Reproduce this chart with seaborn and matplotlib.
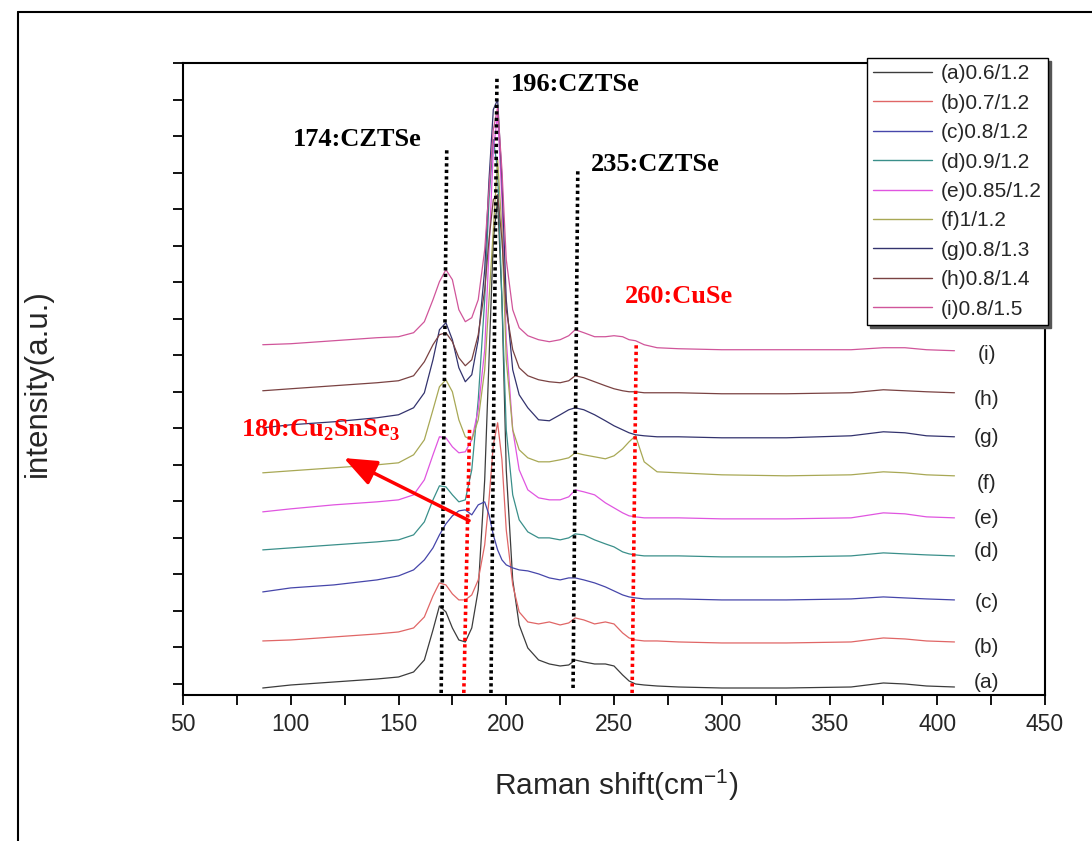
import numpy as np
import pandas as pd
import matplotlib
matplotlib.use('Agg')
import matplotlib.pyplot as plt
import seaborn as sns
from matplotlib.lines import Line2D

# ---------------- data ----------------
shift = [87, 100, 120, 140, 150, 157, 162, 166, 169, 172, 175, 178, 181, 184, 187,
         190, 192, 194, 196, 198, 200, 203, 206, 210, 215, 220, 225, 229, 232, 236,
         241, 246, 250, 254, 257, 260, 264, 270, 280, 300, 330, 360, 375, 385, 395, 408]

s_a = [120, 150, 180, 210, 230, 280, 400, 700, 940, 880, 720, 600, 580, 720, 1100,
       2200, 3400, 4600, 5000, 4000, 2300, 1200, 750, 520, 400, 360, 340, 350, 400, 380,
       360, 360, 340, 250, 190, 160, 150, 140, 130, 120, 120, 130, 170, 160, 140, 130]
s_b = [590, 600, 630, 660, 680, 720, 830, 1040, 1170, 1150, 1060, 1000, 1000, 1050, 1200,
       1550, 2000, 2550, 2770, 2400, 1700, 1150, 880, 780, 760, 780, 750, 770, 820, 800,
       760, 780, 760, 670, 620, 600, 590, 590, 580, 570, 570, 580, 620, 610, 590, 580]
s_c = [1080, 1120, 1150, 1200, 1240, 1300, 1400, 1520, 1650, 1760, 1840, 1890, 1900, 1850, 1950,
       1980, 1850, 1650, 1500, 1400, 1350, 1320, 1300, 1290, 1260, 1220, 1200, 1220, 1220, 1200,
       1170, 1130, 1090, 1050, 1030, 1020, 1010, 1010, 1010, 1000, 1000, 1010, 1030, 1020, 1010, 1000]
s_d = [1500, 1520, 1550, 1580, 1600, 1650, 1780, 2000, 2140, 2130, 2050, 1980, 2000, 2300, 3000,
       4000, 5000, 5600, 5300, 4000, 2700, 2050, 1800, 1680, 1620, 1620, 1600, 1620, 1660, 1650,
       1600, 1560, 1530, 1480, 1460, 1450, 1440, 1440, 1440, 1430, 1430, 1440, 1470, 1460, 1450, 1440]
s_e = [1880, 1910, 1950, 1980, 2000, 2050, 2200, 2450, 2630, 2620, 2530, 2470, 2480, 2600, 2900,
       3500, 4500, 5500, 5850, 5000, 3600, 2700, 2300, 2100, 2020, 2000, 2000, 2030, 2100, 2080,
       2050, 1970, 1920, 1870, 1840, 1830, 1820, 1820, 1820, 1810, 1810, 1820, 1870, 1860, 1830, 1820]
s_f = [2270, 2290, 2320, 2350, 2370, 2450, 2600, 2900, 3130, 3200, 3080, 2800, 2630, 2600, 2800,
       3300, 4000, 4700, 5400, 4700, 3400, 2700, 2500, 2420, 2380, 2380, 2400, 2420, 2470, 2450,
       2430, 2410, 2440, 2510, 2580, 2640, 2380, 2280, 2270, 2250, 2240, 2250, 2280, 2270, 2250, 2240]
s_g = [2720, 2750, 2780, 2820, 2850, 2920, 3070, 3400, 3700, 3770, 3600, 3320, 3180, 3250, 3600,
       4300, 5200, 5900, 6000, 5200, 4000, 3300, 3050, 2920, 2800, 2790, 2850, 2900, 2920, 2900,
       2850, 2790, 2740, 2700, 2670, 2650, 2640, 2630, 2630, 2620, 2620, 2640, 2680, 2670, 2640, 2630]
s_h = [3090, 3110, 3140, 3170, 3190, 3240, 3380, 3550, 3650, 3670, 3580, 3420, 3340, 3400, 3650,
       4100, 4600, 5000, 5050, 4600, 3900, 3500, 3320, 3240, 3200, 3180, 3170, 3190, 3240, 3220,
       3180, 3140, 3110, 3090, 3080, 3080, 3070, 3070, 3070, 3060, 3060, 3070, 3100, 3090, 3080, 3070]
s_i = [3550, 3560, 3590, 3620, 3630, 3670, 3780, 4000, 4180, 4300, 4200, 3900, 3780, 3820, 4000,
       4500, 5100, 5700, 5920, 5300, 4400, 3900, 3720, 3640, 3600, 3580, 3600, 3640, 3700, 3670,
       3630, 3630, 3640, 3630, 3600, 3590, 3550, 3520, 3510, 3500, 3500, 3500, 3520, 3520, 3500, 3490]

labels = ['(a)0.6/1.2', '(b)0.7/1.2', '(c)0.8/1.2', '(d)0.9/1.2', '(e)0.85/1.2',
          '(f)1/1.2', '(g)0.8/1.3', '(h)0.8/1.4', '(i)0.8/1.5']
series = [s_a, s_b, s_c, s_d, s_e, s_f, s_g, s_h, s_i]
colors = ['#3c3c3c', '#e06666', '#4646aa', '#3a8f8a', '#e055e0',
          '#a8a855', '#33336e', '#7a4242', '#d0559a']
tags = ['(a)', '(b)', '(c)', '(d)', '(e)', '(f)', '(g)', '(h)', '(i)']
tag_y = [170, 520, 970, 1480, 1810, 2160, 2620, 3000, 3450]

x_ticks = [50, 100, 150, 200, 250, 300, 350, 400, 450]

# ---------------- style ----------------
sns.set_style('ticks')
plt.rcParams['font.family'] = ['Liberation Sans', 'DejaVu Sans']
plt.rcParams['mathtext.fontset'] = 'custom'
plt.rcParams['mathtext.bf'] = 'Liberation Serif:bold'
plt.rcParams['mathtext.sf'] = 'Liberation Sans'
plt.rcParams['mathtext.rm'] = 'Liberation Sans'

fig = plt.figure(figsize=(10.92, 8.41), dpi=100)
ax = fig.add_axes([183 / 1092, 1 - 695 / 841, (1045 - 183) / 1092, (695 - 63) / 841])

rows = []
for lab, ys in zip(labels, series):
    for x, y in zip(shift, ys):
        rows.append((x, y, lab))
df = pd.DataFrame(rows, columns=['shift', 'intensity', 'sample'])

sns.lineplot(data=df, x='shift', y='intensity', hue='sample', hue_order=labels,
             palette=dict(zip(labels, colors)), linewidth=0.9, estimator=None,
             sort=False, ax=ax, legend=False)

ax.set_xlim(50, 450)
ax.set_ylim(50, 6365)
ax.set_xticks(x_ticks)
ax.set_xticks([75 + 50 * k for k in range(8)], minor=True)
ax.set_yticks([160 + 365 * k for k in range(18)])
ax.set_yticklabels([])
ax.tick_params(axis='both', which='both', direction='out', length=7, width=1.3,
               labelsize=16.5, color='black')
ax.tick_params(axis='x', pad=6)
for sp in ax.spines.values():
    sp.set_linewidth(1.5)
    sp.set_color('black')

ax.set_xlabel(r'Raman shift(cm$^{\mathsf{-1}}$)', fontsize=21.5)
ax.xaxis.set_label_coords(0.503, -0.142)
ax.xaxis.label.set_va('center')
ax.set_ylabel('intensity(a.u.)', fontsize=22.5)
ax.yaxis.set_label_coords(-0.168, 0.494)
ax.yaxis.label.set_va('center')

# sample tags on the right
for t, y in zip(tags, tag_y):
    ax.text(423, y, t, ha='center', va='center', fontsize=15, family='Liberation Sans')

# dotted guide lines
dot = (0, (0.9, 0.9))
ax.plot([169.8, 172.4], [70, 5520], color='black', lw=2.6, linestyle=dot)
ax.plot([192.9, 195.7], [70, 6240], color='black', lw=2.6, linestyle=dot)
ax.plot([231.0, 233.2], [120, 5300], color='black', lw=2.6, linestyle=dot)
ax.plot([180.3, 183.0], [70, 2730], color='red', lw=2.6, linestyle=dot)
ax.plot([258.4, 260.3], [70, 3550], color='red', lw=2.6, linestyle=dot)

serif = dict(fontfamily='Liberation Serif', fontweight='bold', fontsize=19,
             va='center', ha='left')
ax.text(101, 5600, '174:CZTSe', color='black', **serif)
ax.text(202.2, 6150, '196:CZTSe', color='black', **serif)
ax.text(239.3, 5350, '235:CZTSe', color='black', **serif)
ax.text(255.1, 4030, '260:CuSe', color='red', **serif)
ax.text(76.8, 2700, r'180:Cu$_\mathbf{2}$SnSe$_\mathbf{3}$', color='red', **serif)

ax.annotate('', xy=(123.5, 2430), xytext=(183.9, 1780),
            arrowprops=dict(arrowstyle='-|>,head_length=0.8,head_width=0.32',
                            color='red', lw=2.5, mutation_scale=25))

# legend
handles = [Line2D([], [], color=c, lw=1.0) for c in colors]
leg = ax.legend(handles, labels, loc='upper right',
                bbox_to_anchor=(1048 / 1092, 1 - 58 / 841), bbox_transform=fig.transFigure,
                prop={'family': 'Liberation Sans', 'size': 15}, frameon=True,
                fancybox=False, edgecolor='black', framealpha=1, borderpad=0.3,
                labelspacing=0.5, handlelength=2.8, handletextpad=0.45, borderaxespad=0,
                shadow={'color': '#555555', 'alpha': 1.0})
leg.get_frame().set_linewidth(1.0)

# outer frame of the picture
fig.add_artist(Line2D([18 / 1092, 18 / 1092], [0, 1 - 12 / 841],
                      transform=fig.transFigure, color='black', lw=1.5))
fig.add_artist(Line2D([18 / 1092, 1], [1 - 12 / 841, 1 - 12 / 841],
                      transform=fig.transFigure, color='black', lw=1.5))

fig.savefig('out.png', dpi=100, facecolor='white')
